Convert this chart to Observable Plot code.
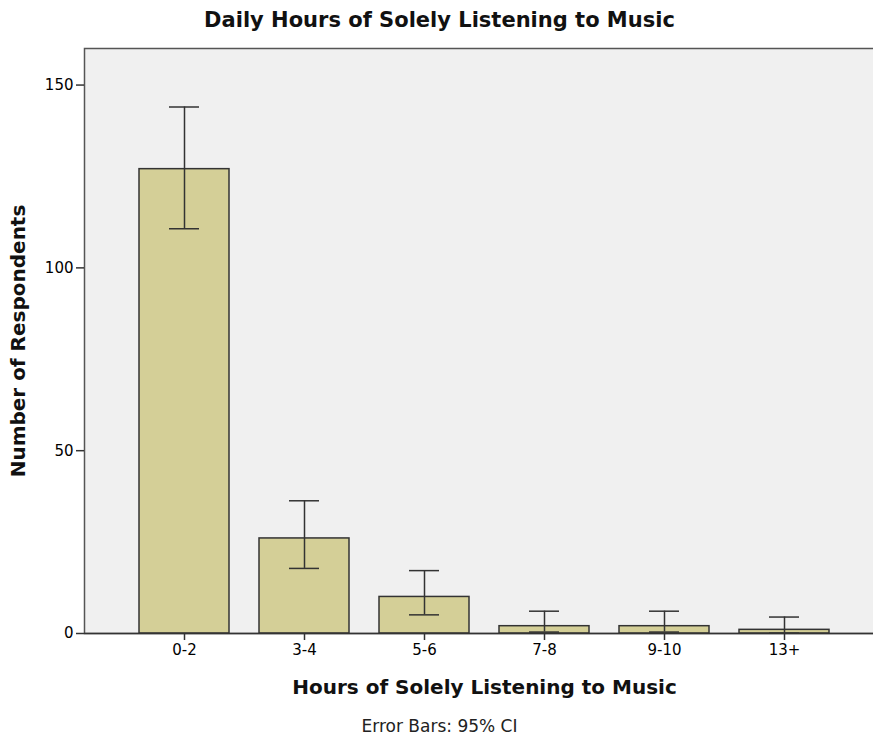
<!DOCTYPE html>
<html>
<head>
<meta charset="utf-8">
<script src="https://cdn.jsdelivr.net/npm/d3@7"></script>
<script src="https://cdn.jsdelivr.net/npm/@observablehq/plot@0.6"></script>
<style>
  html, body { margin: 0; padding: 0; background: #fff; overflow: hidden; }
  body { width: 873px; height: 742px; font-family: "DejaVu Sans", sans-serif; }
  #title { height: 40px; line-height: 40px; text-align: center; font-weight: bold; font-size: 21px; color: #111; padding-left: 6px; }
  #chart { height: 662px; overflow: visible; }
  #caption { text-align: center; font-size: 17px; color: #222; margin-top: 14px; padding-left: 6px; }
</style>
</head>
<body>
<div id="title">Daily Hours of Solely Listening to Music</div>
<div id="chart"></div>
<div id="caption">Error Bars: 95% CI</div>
<script>
// Respondent counts per daily-hours bucket, with 95% CI bounds
const categories = ["0-2", "3-4", "5-6", "7-8", "9-10", "13+"];
const counts = [127, 26, 10, 2, 2, 1];
const ciLow = [110.7, 17.8, 5.1, 0.4, 0.4, 0.1];
const ciHigh = [144, 36.3, 17.2, 6.1, 6.1, 4.5];
const yTicks = [0, 50, 100, 150];

const data = categories.map((c, i) => ({
  category: c, count: counts[i], low: ciLow[i], high: ciHigh[i]
}));

const ink = "#333";

const chart = Plot.plot({
  width: 873,
  height: 662,
  marginTop: 8,
  marginLeft: 84,
  marginRight: -11,
  marginBottom: 69,
  style: { fontFamily: "DejaVu Sans, sans-serif", background: "transparent", overflow: "visible" },
  x: { domain: categories, paddingInner: 0.25, paddingOuter: 0.458 },
  y: { domain: [0, 160] },
  marks: [
    Plot.frame({ fill: "#f0f0f0", stroke: "#555", strokeWidth: 1.5 }),
    Plot.barY(data, { x: "category", y: "count", fill: "#d4cf97", stroke: ink, strokeWidth: 1.5 }),
    Plot.ruleX(data, { x: "category", y1: "low", y2: "high", stroke: ink, strokeWidth: 1.5 }),
    Plot.tickY(data, { x: "category", y: "high", stroke: ink, strokeWidth: 1.5, insetLeft: 30, insetRight: 30 }),
    Plot.tickY(data, { x: "category", y: "low", stroke: ink, strokeWidth: 1.5, insetLeft: 30, insetRight: 30 }),
    Plot.ruleY([0], { stroke: ink, strokeWidth: 1.5 }),
    Plot.ruleX([0], { frameAnchor: "left", stroke: ink, strokeWidth: 2 }),
    Plot.axisY({
      ticks: yTicks, tickSize: 8, tickPadding: 3, fontSize: 15, stroke: ink, strokeWidth: 1.5,
      label: "Number of Respondents", labelAnchor: "center", labelOffset: 74, labelArrow: "none"
    }),
    Plot.axisX({
      tickSize: 7, tickPadding: 4, fontSize: 15, stroke: ink, strokeWidth: 1.5,
      label: "Hours of Solely Listening to Music", labelAnchor: "center", labelOffset: 60, labelArrow: "none"
    })
  ]
});

// Bold, larger axis titles without direction arrows
chart.querySelectorAll("[aria-label='y-axis label'], [aria-label='x-axis label']").forEach(g => {
  g.setAttribute("font-size", "20");
  g.setAttribute("font-weight", "bold");
  g.setAttribute("fill", "#111");
  g.querySelectorAll("text").forEach(t => {
    t.textContent = t.textContent.replace(/[\u2191\u2192\u2190\u2193]/g, "").trim();
  });
});

document.getElementById("chart").append(chart);
</script>
</body>
</html>
